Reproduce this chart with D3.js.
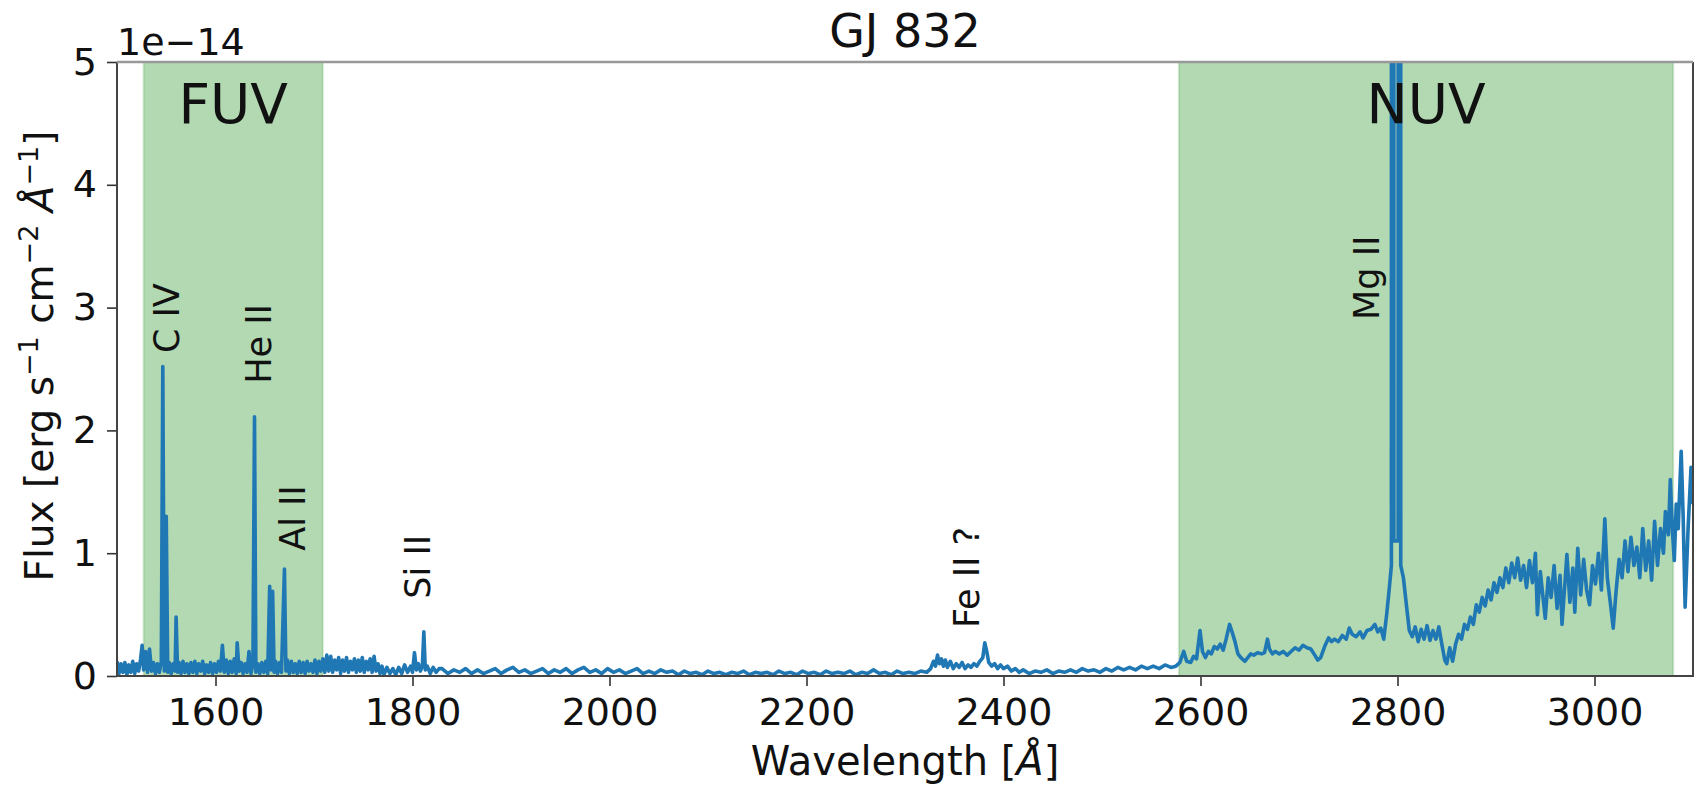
<!DOCTYPE html>
<meta charset="utf-8">
<style>
    body { margin: 0; background: #fff; }
    svg text { font-family: "DejaVu Sans", sans-serif; fill: #111; }
    .tick line { stroke: #333; stroke-width: 1.6; }
</style>
<body>
<svg></svg>
</body>
<script src="https://cdnjs.cloudflare.com/ajax/libs/d3/7.8.5/d3.min.js"></script>
<script>
    // flux in units of 1e-14 erg s^-1 cm^-2 A^-1
    var fuvSpec = [
        [1500, 0.12], [1502, 0.02], [1504, 0.10], [1506, 0.03], [1508, 0.11], [1510, 0.01], [1512, 0.09],
        [1514, 0.03], [1516, 0.12], [1518, 0.02], [1520, 0.10], [1522, 0.04], [1524, 0.14], [1525.5, 0.25],
        [1527, 0.05], [1529, 0.20], [1531, 0.03], [1533, 0.22], [1535, 0.04], [1537, 0.11], [1539, 0.02],
        [1541, 0.10], [1543, 0.03], [1545, 0.12], [1546.5, 2.52], [1548, 0.04], [1549, 0.10], [1550, 1.30],
        [1551.5, 0.03], [1553, 0.11], [1555, 0.02], [1557, 0.10], [1559, 0.04], [1560, 0.48], [1561.5, 0.03],
        [1563, 0.11], [1565, 0.02], [1567, 0.12], [1569, 0.03], [1571, 0.10], [1573, 0.02], [1575, 0.11],
        [1577, 0.03], [1579, 0.12], [1581, 0.02], [1583, 0.10], [1585, 0.04], [1587, 0.12], [1589, 0.02],
        [1591, 0.09], [1593, 0.03], [1595, 0.11], [1597, 0.02], [1599, 0.10], [1601, 0.03], [1603, 0.12],
        [1605, 0.04], [1607, 0.25], [1609, 0.03], [1611, 0.13], [1613, 0.02], [1615, 0.12], [1617, 0.03],
        [1619, 0.14], [1621, 0.02], [1622, 0.27], [1624, 0.04], [1626, 0.11], [1628, 0.02], [1630, 0.10],
        [1632, 0.03], [1634, 0.20], [1636, 0.02], [1638, 0.10], [1639.6, 2.11], [1641, 0.03], [1643, 0.10],
        [1645, 0.02], [1647, 0.11], [1649, 0.03], [1651, 0.12], [1653, 0.02], [1655, 0.73], [1656.5, 0.05],
        [1658, 0.69], [1659.5, 0.03], [1661, 0.12], [1663, 0.02], [1665, 0.11], [1667, 0.03], [1670, 0.87],
        [1671.5, 0.04], [1673, 0.13], [1675, 0.02], [1677, 0.12], [1679, 0.03], [1681, 0.10], [1683, 0.02],
        [1685, 0.12], [1687, 0.03], [1689, 0.11], [1691, 0.02], [1693, 0.12], [1695, 0.04], [1697, 0.10],
        [1699, 0.03], [1701, 0.13], [1703, 0.02], [1705, 0.12], [1707, 0.04], [1709, 0.14], [1711, 0.03],
        [1713, 0.17], [1715, 0.04], [1717, 0.16], [1719, 0.03], [1721, 0.13], [1723, 0.05], [1725, 0.15],
        [1727, 0.02], [1729, 0.13], [1731, 0.04], [1733, 0.15], [1735, 0.03], [1737, 0.12], [1739, 0.05],
        [1741, 0.14], [1743, 0.03], [1745, 0.13], [1747, 0.04], [1749, 0.15], [1751, 0.03], [1753, 0.12],
        [1755, 0.05], [1757, 0.14], [1759, 0.03], [1761, 0.16], [1763, 0.04], [1765, 0.10], [1767, 0.02],
        [1769, 0.08], [1771, 0.01], [1774, 0.07], [1777, 0.02], [1780, 0.06], [1783, 0.01], [1786, 0.07],
        [1789, 0.02], [1792, 0.09], [1795, 0.03], [1798, 0.08], [1800, 0.03], [1802, 0.19], [1804, 0.05],
        [1806, 0.10], [1808, 0.04], [1810, 0.08], [1811.5, 0.36], [1813, 0.05], [1815, 0.08], [1818, 0.02],
        [1821, 0.07], [1824, 0.03], [1827, 0.06]
    ];

    var midSpec = [
        [1830, 0.06], [1836, 0.02], [1842, 0.05], [1848, 0.03], [1854, 0.06], [1860, 0.02], [1866, 0.05],
        [1872, 0.02], [1878, 0.04], [1884, 0.06], [1890, 0.02], [1896, 0.05], [1902, 0.07], [1908, 0.03],
        [1914, 0.05], [1920, 0.02], [1926, 0.04], [1932, 0.06], [1938, 0.02], [1944, 0.05], [1950, 0.03],
        [1956, 0.06], [1962, 0.02], [1968, 0.05], [1974, 0.07], [1980, 0.03], [1986, 0.05], [1992, 0.02],
        [1998, 0.06], [2004, 0.03], [2010, 0.05], [2016, 0.02], [2022, 0.04], [2028, 0.06], [2034, 0.02],
        [2040, 0.04], [2046, 0.02], [2052, 0.05], [2058, 0.03], [2064, 0.04], [2070, 0.01], [2076, 0.04],
        [2082, 0.02], [2088, 0.03], [2094, 0.01], [2100, 0.04], [2106, 0.02], [2112, 0.03], [2118, 0.01],
        [2124, 0.03], [2130, 0.02], [2136, 0.04], [2142, 0.01], [2148, 0.03], [2154, 0.02], [2160, 0.03],
        [2166, 0.01], [2172, 0.04], [2178, 0.02], [2184, 0.03], [2190, 0.01], [2196, 0.04], [2202, 0.02],
        [2208, 0.03], [2214, 0.01], [2220, 0.04], [2226, 0.02], [2232, 0.03], [2238, 0.02], [2244, 0.04],
        [2250, 0.01], [2256, 0.03], [2262, 0.02], [2268, 0.05], [2274, 0.02], [2280, 0.03], [2286, 0.01],
        [2292, 0.04], [2298, 0.02], [2304, 0.03], [2310, 0.02], [2316, 0.04], [2322, 0.03],
        [2326, 0.06], [2329, 0.12], [2331, 0.08], [2333, 0.17], [2335, 0.10], [2337, 0.14], [2339, 0.08],
        [2341, 0.13], [2343, 0.07], [2346, 0.12], [2349, 0.06], [2352, 0.10], [2355, 0.07], [2358, 0.11],
        [2361, 0.06], [2364, 0.09], [2367, 0.07], [2370, 0.10], [2373, 0.08], [2376, 0.12], [2379, 0.15],
        [2381, 0.27], [2383, 0.20], [2385, 0.11], [2388, 0.08], [2391, 0.10], [2394, 0.06], [2397, 0.09],
        [2400, 0.06], [2404, 0.08], [2408, 0.04], [2412, 0.06], [2416, 0.03], [2420, 0.05], [2426, 0.02],
        [2432, 0.04], [2438, 0.03], [2444, 0.05], [2450, 0.02], [2456, 0.04], [2462, 0.03], [2468, 0.05],
        [2474, 0.03], [2480, 0.06], [2486, 0.04], [2492, 0.05], [2498, 0.03], [2504, 0.06], [2510, 0.04],
        [2516, 0.07], [2522, 0.05], [2528, 0.07], [2534, 0.05], [2540, 0.08], [2546, 0.06], [2552, 0.08],
        [2558, 0.06], [2564, 0.09], [2570, 0.07], [2575, 0.08], [2579, 0.11]
    ];

    var nuvSpec = [
        [2583, 0.20], [2586, 0.12], [2590, 0.11], [2593, 0.16], [2596, 0.14], [2599.5, 0.37], [2602, 0.20],
        [2605, 0.15], [2608, 0.20], [2611, 0.18], [2614, 0.24], [2617, 0.22], [2620, 0.26], [2623, 0.21],
        [2626, 0.30], [2629.5, 0.42], [2632, 0.36], [2635, 0.28], [2638, 0.18], [2641, 0.15], [2645, 0.12],
        [2648, 0.15], [2651, 0.18], [2654, 0.17], [2658, 0.19], [2662, 0.18], [2665, 0.19], [2668, 0.30],
        [2670, 0.22], [2673, 0.18], [2676, 0.20], [2680, 0.18], [2684, 0.20], [2688, 0.17], [2692, 0.20],
        [2696, 0.23], [2700, 0.21], [2704, 0.25], [2708, 0.23], [2712, 0.22], [2716, 0.17], [2719, 0.13],
        [2722, 0.15], [2726, 0.24], [2730, 0.31], [2733, 0.28], [2736, 0.30], [2740, 0.28], [2744, 0.33],
        [2748, 0.30], [2751, 0.39], [2754, 0.34], [2758, 0.32], [2762, 0.36], [2765, 0.31], [2769, 0.37],
        [2773, 0.38], [2777, 0.42], [2780, 0.36], [2783, 0.39], [2786, 0.30], [2789, 0.50], [2791.5, 0.70],
        [2793.8, 0.90], [2794, 60], [2796, 60], [2796.3, 1.10], [2800.7, 1.10], [2801, 60], [2803, 60],
        [2803.3, 0.90], [2806, 0.80], [2809, 0.58], [2812, 0.37], [2815, 0.32], [2818, 0.40], [2821, 0.28],
        [2824, 0.38], [2827, 0.30], [2830, 0.41], [2833, 0.29], [2836, 0.37], [2839, 0.30], [2842, 0.40],
        [2845, 0.26], [2848, 0.13], [2850, 0.10], [2853, 0.23], [2856, 0.12], [2859, 0.26], [2862, 0.34],
        [2865, 0.30], [2868, 0.42], [2871, 0.38], [2874, 0.48], [2877, 0.42], [2880, 0.58], [2883, 0.52],
        [2886, 0.64], [2889, 0.57], [2892, 0.70], [2895, 0.62], [2898, 0.76], [2901, 0.68], [2904, 0.80],
        [2907, 0.72], [2910, 0.88], [2913, 0.76], [2916, 0.92], [2919, 0.80], [2922, 0.96], [2925, 0.78],
        [2928, 0.90], [2931, 0.72], [2934, 0.94], [2937, 0.76], [2940, 1.00], [2942, 0.50], [2945, 0.85],
        [2948, 0.62], [2950, 0.47], [2953, 0.80], [2956, 0.64], [2959, 0.90], [2962, 0.55], [2965, 0.82],
        [2967, 0.42], [2970, 0.76], [2972, 0.99], [2975, 0.60], [2978, 0.88], [2980, 0.52], [2983, 1.04],
        [2986, 0.66], [2989, 0.95], [2992, 0.70], [2995, 0.58], [2998, 0.90], [3001, 0.75], [3004, 1.00],
        [3007, 0.70], [3010.5, 1.28], [3013, 0.80], [3016, 0.60], [3019, 0.39], [3022, 0.70], [3025, 0.95],
        [3028, 0.80], [3031, 1.10], [3034, 0.85], [3037, 1.13], [3040, 0.90], [3043, 1.05], [3046, 0.80],
        [3049, 1.20], [3052, 0.86], [3055, 1.10], [3058, 0.78], [3061, 1.26], [3064, 0.90], [3067, 1.20],
        [3070, 1.00], [3072, 1.34], [3075, 1.15], [3077, 1.60], [3079, 1.20], [3081, 0.94], [3083, 1.40],
        [3085, 1.20], [3088, 1.83], [3090, 1.30], [3092, 0.56], [3095, 1.20], [3098, 1.70], [3100, 1.40]
    ];

    // shaded bands [start, end] in Angstrom
    var bands = [
        {name: "FUV", from: 1527, to: 1709},
        {name: "NUV", from: 2578, to: 3080}
    ];

    // line ids: position of the start of the rotated text (data coords)
    var lineLabels = [
        {name: "C IV", wave: 1563, flux: 2.63},
        {name: "He II", wave: 1656, flux: 2.38},
        {name: "Al II", wave: 1691, flux: 1.02},
        {name: "Si II", wave: 1818, flux: 0.63},
        {name: "Fe II ?", wave: 2375, flux: 0.39},
        {name: "Mg II", wave: 2781, flux: 2.90}
    ];

    var xTicks = [1600, 1800, 2000, 2200, 2400, 2600, 2800, 3000];
    var yTicks = [0, 1, 2, 3, 4, 5];

    var width = 1696, height = 788;
    var margin = {top: 62, right: 3, bottom: 112, left: 117};

    var svg = d3.select("svg")
        .attr("width", width)
        .attr("height", height);

    var x = d3.scaleLinear().domain([1500, 3100]).range([margin.left, width - margin.right]);
    var y = d3.scaleLinear().domain([0, 5]).range([height - margin.bottom, margin.top]);

    svg.append("defs").append("clipPath")
        .attr("id", "plotclip")
        .append("rect")
        .attr("x", margin.left)
        .attr("y", margin.top)
        .attr("width", width - margin.left - margin.right)
        .attr("height", height - margin.top - margin.bottom);

    // bands
    svg.append("g")
        .selectAll("rect")
        .data(bands)
        .enter().append("rect")
        .attr("x", function (d) { return x(d.from); })
        .attr("y", margin.top)
        .attr("width", function (d) { return x(d.to) - x(d.from); })
        .attr("height", height - margin.top - margin.bottom)
        .style("fill", "green")
        .style("fill-opacity", 0.3)
        .style("stroke", "green")
        .style("stroke-opacity", 0.15)
        .style("stroke-width", 2);

    var spectrum = fuvSpec.concat(midSpec, nuvSpec);

    var line = d3.line()
        .x(function (d) { return x(d[0]); })
        .y(function (d) { return y(d[1]); });

    svg.append("path")
        .datum(spectrum)
        .attr("clip-path", "url(#plotclip)")
        .attr("d", line)
        .style("fill", "none")
        .style("stroke", "#1f77b4")
        .style("stroke-width", 3.6)
        .style("stroke-linejoin", "round");

    // axes
    var xAxis = svg.append("g")
        .attr("transform", "translate(0," + (height - margin.bottom) + ")")
        .call(d3.axisBottom(x).tickValues(xTicks).tickSize(10).tickPadding(12).tickFormat(d3.format("d")));
    xAxis.select(".domain").remove();
    xAxis.selectAll("text").style("font-size", "38px");

    var yAxis = svg.append("g")
        .attr("transform", "translate(" + margin.left + ",0)")
        .call(d3.axisLeft(y).tickValues(yTicks).tickSize(10).tickPadding(10).tickFormat(d3.format("d")));
    yAxis.select(".domain").remove();
    yAxis.selectAll("text").style("font-size", "38px");

    // frame
    var x0 = margin.left, x1 = width - margin.right, y0 = margin.top, y1 = height - margin.bottom;
    svg.append("path")
        .attr("d", "M" + x0 + "," + y0 + "V" + y1 + "H" + x1 + "V" + y0)
        .style("fill", "none").style("stroke", "#444").style("stroke-width", 2);
    svg.append("path")
        .attr("d", "M" + x0 + "," + y0 + "H" + x1)
        .style("fill", "none").style("stroke", "#999").style("stroke-width", 2.5);

    // band names
    svg.append("g")
        .selectAll("text")
        .data(bands)
        .enter().append("text")
        .attr("x", function (d) { return (x(d.from) + x(d.to)) / 2; })
        .attr("y", 123)
        .attr("text-anchor", "middle")
        .style("font-size", "55px")
        .text(function (d) { return d.name; });

    // line ids
    svg.append("g")
        .selectAll("text")
        .data(lineLabels)
        .enter().append("text")
        .attr("transform", function (d) {
            return "translate(" + x(d.wave) + "," + y(d.flux) + ") rotate(-90)";
        })
        .style("font-size", "35px")
        .text(function (d) { return d.name; });

    // title and offset text
    svg.append("text")
        .attr("x", (x0 + x1) / 2)
        .attr("y", 47)
        .attr("text-anchor", "middle")
        .style("font-size", "46px")
        .text("GJ 832");

    svg.append("text")
        .attr("x", x0)
        .attr("y", 55)
        .style("font-size", "38px")
        .text("1e\u221214");

    // axis labels
    var xl = svg.append("text")
        .attr("x", (x0 + x1) / 2)
        .attr("y", 775)
        .attr("text-anchor", "middle")
        .style("font-size", "40px");
    xl.append("tspan").text("Wavelength [");
    xl.append("tspan").style("font-style", "italic").text("\u00c5");
    xl.append("tspan").text("]");

    var yl = svg.append("text")
        .attr("transform", "translate(53," + 356 + ") rotate(-90)")
        .attr("text-anchor", "middle")
        .style("font-size", "39px");
    yl.append("tspan").text("Flux [erg s");
    yl.append("tspan").attr("dy", -15).style("font-size", "27px").text("\u22121");
    yl.append("tspan").attr("dy", 15).text(" cm");
    yl.append("tspan").attr("dy", -15).style("font-size", "27px").text("\u22122");
    yl.append("tspan").attr("dy", 15).style("font-style", "italic").text(" \u00c5");
    yl.append("tspan").attr("dy", -15).style("font-size", "27px").text("\u22121");
    yl.append("tspan").attr("dy", 15).text("]");
</script>
